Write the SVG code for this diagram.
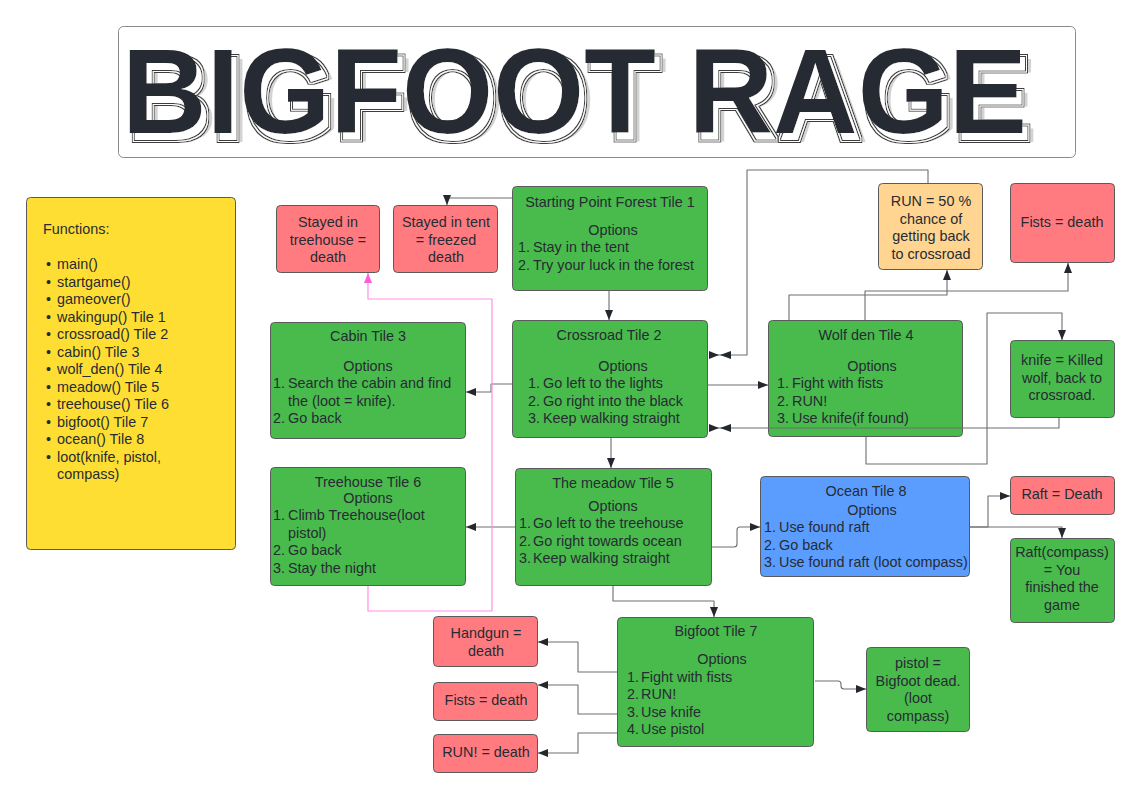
<svg xmlns="http://www.w3.org/2000/svg" width="1141" height="800" viewBox="0 0 1141 800">
  <defs>
    <style>
      .node { stroke: #5a5a5a; stroke-width: 1; }
      .green { fill: #48bb4c; }
      .red { fill: #ff7b80; }
      .orange { fill: #ffd591; }
      .blue { fill: #5a9dff; }
      .yellow { fill: #ffde33; }
      text { font-family: "Liberation Sans", Arial, sans-serif; font-size: 14.4px; fill: #272b33; }
      .c { text-anchor: middle; }
      .conn { fill: none; stroke: #6e6e6e; stroke-width: 1.1; stroke-linejoin: round; }
      .pink { fill: none; stroke: #ff8fe6; stroke-width: 1.2; stroke-linejoin: round; }
      .head { fill: #23272e; }
      .title { font-family: "Liberation Sans", Arial, sans-serif; font-weight: bold; font-size: 121px; }
    </style>
    <marker id="arrow" markerUnits="userSpaceOnUse" markerWidth="11" markerHeight="9" refX="10" refY="4" orient="auto">
      <path d="M0,0 L10,4 L0,8 z" fill="#23272e"/>
    </marker>
    <marker id="arrowPink" markerUnits="userSpaceOnUse" markerWidth="11" markerHeight="9" refX="10" refY="4" orient="auto">
      <path d="M0,0 L10,4 L0,8 z" fill="#ff5cd9"/>
    </marker>
    <!-- vertical block seams inside the heading letters -->
    <pattern id="blocks" width="20" height="20" patternUnits="userSpaceOnUse" x="122">
      <rect width="20" height="20" fill="#2c313a"/>
      <rect x="19" width="1" height="20" fill="#4a505a"/>
    </pattern>
    <!-- heading effect: grey drop shadow plus a double-line offset outline -->
    <filter id="retro" x="-3%" y="-20%" width="108%" height="150%">
      <feOffset in="SourceAlpha" dx="11" dy="9" result="far"/>
      <feFlood flood-color="#a8a8a8" flood-opacity="0.5"/>
      <feComposite in2="far" operator="in" result="grey"/>
      <feOffset in="SourceAlpha" dx="5" dy="7" result="near"/>
      <feMorphology in="near" operator="dilate" radius="2.6" result="d26"/>
      <feMorphology in="near" operator="dilate" radius="1.5" result="d15"/>
      <feMorphology in="near" operator="dilate" radius="0.7" result="d07"/>
      <feComposite in="d26" in2="d15" operator="out" result="ring1"/>
      <feComposite in="d07" in2="near" operator="out" result="ring2"/>
      <feMerge result="rings">
        <feMergeNode in="ring1"/>
        <feMergeNode in="ring2"/>
      </feMerge>
      <feFlood flood-color="#ffffff"/>
      <feComposite in2="d26" operator="in" result="paper"/>
      <feFlood flood-color="#3c3c3c"/>
      <feComposite in2="rings" operator="in" result="lines"/>
      <feMerge>
        <feMergeNode in="grey"/>
        <feMergeNode in="paper"/>
        <feMergeNode in="lines"/>
        <feMergeNode in="SourceGraphic"/>
      </feMerge>
    </filter>
  </defs>

  <!-- Title banner -->
  <g id="title">
    <rect x="118.5" y="26.5" width="957" height="131" rx="5" fill="#ffffff" stroke="#8a8a8a" stroke-width="1"/>
    <text class="title" x="122" y="133" textLength="905" lengthAdjust="spacingAndGlyphs" fill="url(#blocks)" filter="url(#retro)">BIGFOOT RAGE</text>
  </g>

  <!-- Function list -->
  <g id="functions">
    <rect class="node yellow" x="26.5" y="197.5" width="209" height="352" rx="4"/>
    <text x="43" y="234">Functions:</text>
    <g>
      <text x="46" y="269">•</text><text x="57" y="269">main()</text>
      <text x="46" y="286.5">•</text><text x="57" y="286.5">startgame()</text>
      <text x="46" y="304">•</text><text x="57" y="304">gameover()</text>
      <text x="46" y="321.5">•</text><text x="57" y="321.5">wakingup() Tile 1</text>
      <text x="46" y="339">•</text><text x="57" y="339">crossroad() Tile 2</text>
      <text x="46" y="356.5">•</text><text x="57" y="356.5">cabin() Tile 3</text>
      <text x="46" y="374">•</text><text x="57" y="374">wolf_den() Tile 4</text>
      <text x="46" y="391.5">•</text><text x="57" y="391.5">meadow() Tile 5</text>
      <text x="46" y="409">•</text><text x="57" y="409">treehouse() Tile 6</text>
      <text x="46" y="426.5">•</text><text x="57" y="426.5">bigfoot() Tile 7</text>
      <text x="46" y="444">•</text><text x="57" y="444">ocean() Tile 8</text>
      <text x="46" y="461.5">•</text><text x="57" y="461.5">loot(knife, pistol,</text>
      <text x="57" y="479">compass)</text>
    </g>
  </g>

  <!-- Tile 1 -->
  <g id="start">
    <rect class="node green" x="512.5" y="186.5" width="195" height="104" rx="4"/>
    <text class="c" x="610" y="206.5">Starting Point Forest Tile 1</text>
    <text class="c" x="613" y="235">Options</text>
    <text x="518" y="252">1.</text><text x="533" y="252">Stay in the tent</text>
    <text x="518" y="270">2.</text><text x="533" y="270">Try your luck in the forest</text>
  </g>

  <g id="treehouse-death">
    <rect class="node red" x="276.5" y="205.5" width="103" height="67" rx="4"/>
    <text class="c" x="328" y="227">Stayed in</text>
    <text class="c" x="328" y="244.5">treehouse  =</text>
    <text class="c" x="328" y="262">death</text>
  </g>

  <g id="tent-death">
    <rect class="node red" x="393.5" y="205.5" width="104" height="67" rx="4"/>
    <text class="c" x="446" y="227">Stayed in tent</text>
    <text class="c" x="446" y="244.5">= freezed</text>
    <text class="c" x="446" y="262">death</text>
  </g>

  <!-- Tile 2 -->
  <g id="crossroad">
    <rect class="node green" x="512.5" y="320.5" width="195" height="117" rx="4"/>
    <text class="c" x="609" y="340">Crossroad Tile 2</text>
    <text class="c" x="623" y="371">Options</text>
    <text x="528" y="388">1.</text><text x="543" y="388">Go left to the lights</text>
    <text x="528" y="406">2.</text><text x="543" y="406">Go right into the black</text>
    <text x="528" y="423">3.</text><text x="543" y="423">Keep walking straight</text>
  </g>

  <!-- Tile 3 -->
  <g id="cabin">
    <rect class="node green" x="270.5" y="322.5" width="195" height="116" rx="4"/>
    <text class="c" x="368" y="341">Cabin Tile 3</text>
    <text class="c" x="368" y="371">Options</text>
    <text x="273" y="388">1.</text><text x="288" y="388">Search the cabin and find</text>
    <text x="288" y="406">the (loot = knife).</text>
    <text x="273" y="423">2.</text><text x="288" y="423">Go back</text>
  </g>

  <!-- Tile 4 -->
  <g id="wolf-den">
    <rect class="node green" x="768.5" y="320.5" width="194" height="116" rx="4"/>
    <text class="c" x="866" y="340">Wolf den Tile 4</text>
    <text class="c" x="872" y="371">Options</text>
    <text x="777" y="388">1.</text><text x="792" y="388">Fight with fists</text>
    <text x="777" y="406">2.</text><text x="792" y="406">RUN!</text>
    <text x="777" y="423">3.</text><text x="792" y="423">Use knife(if found)</text>
  </g>

  <g id="run-chance">
    <rect class="node orange" x="878.5" y="183.5" width="104" height="86" rx="4"/>
    <text class="c" x="931" y="206">RUN = 50 %</text>
    <text class="c" x="931" y="223.5">chance of</text>
    <text class="c" x="931" y="241">getting back</text>
    <text class="c" x="931" y="258.5">to crossroad</text>
  </g>

  <g id="wolf-fists">
    <rect class="node red" x="1010.5" y="183.5" width="104" height="79" rx="4"/>
    <text class="c" x="1062" y="227">Fists = death</text>
  </g>

  <g id="wolf-knife">
    <rect class="node green" x="1010.5" y="340.5" width="104" height="77" rx="4"/>
    <text class="c" x="1062" y="365">knife = Killed</text>
    <text class="c" x="1062" y="383">wolf, back to</text>
    <text class="c" x="1062" y="400">crossroad.</text>
  </g>

  <!-- Tile 5 -->
  <g id="meadow">
    <rect class="node green" x="515.5" y="468.5" width="196" height="117" rx="4"/>
    <text class="c" x="613" y="488">The meadow Tile 5</text>
    <text class="c" x="613" y="511">Options</text>
    <text x="519" y="528">1.</text><text x="533" y="528">Go left to the treehouse</text>
    <text x="519" y="546">2.</text><text x="533" y="546">Go right towards ocean</text>
    <text x="519" y="563">3.</text><text x="533" y="563">Keep walking straight</text>
  </g>

  <!-- Tile 6 -->
  <g id="treehouse">
    <rect class="node green" x="270.5" y="467.5" width="195" height="118" rx="4"/>
    <text class="c" x="368" y="487">Treehouse Tile 6</text>
    <text class="c" x="368" y="503">Options</text>
    <text x="273" y="520">1.</text><text x="288" y="520">Climb Treehouse(loot</text>
    <text x="288" y="538">pistol)</text>
    <text x="273" y="555">2.</text><text x="288" y="555">Go back</text>
    <text x="273" y="573">3.</text><text x="288" y="573">Stay the night</text>
  </g>

  <!-- Tile 8 -->
  <g id="ocean">
    <rect class="node blue" x="760.5" y="476.5" width="209" height="100" rx="4"/>
    <text class="c" x="866" y="496">Ocean Tile 8</text>
    <text class="c" x="872" y="515">Options</text>
    <text x="764" y="532">1.</text><text x="779" y="532">Use found raft</text>
    <text x="764" y="550">2.</text><text x="779" y="550">Go back</text>
    <text x="764" y="567">3.</text><text x="779" y="567">Use found raft (loot compass)</text>
  </g>

  <g id="raft-death">
    <rect class="node red" x="1010.5" y="476.5" width="104" height="38" rx="4"/>
    <text class="c" x="1062" y="499">Raft = Death</text>
  </g>

  <g id="raft-compass">
    <rect class="node green" x="1010.5" y="538.5" width="104" height="84" rx="4"/>
    <text class="c" x="1062" y="557">Raft(compass)</text>
    <text class="c" x="1062" y="575">= You</text>
    <text class="c" x="1062" y="592">finished the</text>
    <text class="c" x="1062" y="610">game</text>
  </g>

  <!-- Tile 7 -->
  <g id="bigfoot">
    <rect class="node green" x="617.5" y="617.5" width="196" height="129" rx="4"/>
    <text class="c" x="716" y="636">Bigfoot Tile 7</text>
    <text class="c" x="722" y="664">Options</text>
    <text x="627" y="682">1.</text><text x="641" y="682">Fight with fists</text>
    <text x="627" y="699">2.</text><text x="641" y="699">RUN!</text>
    <text x="627" y="717">3.</text><text x="641" y="717">Use knife</text>
    <text x="627" y="734">4.</text><text x="641" y="734">Use pistol</text>
  </g>

  <g id="handgun-death">
    <rect class="node red" x="433.5" y="616.5" width="104" height="50" rx="4"/>
    <text class="c" x="486" y="638">Handgun =</text>
    <text class="c" x="486" y="656">death</text>
  </g>

  <g id="fists-death">
    <rect class="node red" x="433.5" y="682.5" width="104" height="38" rx="4"/>
    <text class="c" x="486" y="704.5">Fists = death</text>
  </g>

  <g id="run-death">
    <rect class="node red" x="433.5" y="734.5" width="104" height="38" rx="4"/>
    <text class="c" x="486" y="757">RUN! = death</text>
  </g>

  <g id="pistol-win">
    <rect class="node green" x="866.5" y="647.5" width="103" height="84" rx="4"/>
    <text class="c" x="918" y="668">pistol =</text>
    <text class="c" x="918" y="686">Bigfoot dead.</text>
    <text class="c" x="918" y="703">(loot</text>
    <text class="c" x="918" y="721">compass)</text>
  </g>

  <!-- Connectors -->
  <g id="connectors">
    <path class="conn" d="M512,198 H447 V205" marker-end="url(#arrow)"/>
    <path class="conn" d="M609,291 V320" marker-end="url(#arrow)"/>
    <path class="conn" d="M512,384 H491 V392 H466" marker-end="url(#arrow)"/>
    <path class="conn" d="M708,385 H768" marker-end="url(#arrow)"/>
    <path class="conn" d="M789,320 V295 H947 V270" marker-end="url(#arrow)"/>
    <path class="conn" d="M865,320 V291 H1068 V263" marker-end="url(#arrow)"/>
    <path class="conn" d="M928,183 V170 H747 V355 H709"/>
    <path class="conn" d="M866,437 V464 H987 V313 H1062 V340" marker-end="url(#arrow)"/>
    <path class="conn" d="M1059,418 V428 H709"/>
    <polygon class="head" points="709,351 709,359 719,355"/>
    <polygon class="head" points="720,355 731,351 731,359"/>
    <polygon class="head" points="709,424 709,432 719,428"/>
    <polygon class="head" points="720,428 731,424 731,432"/>
    <path class="conn" d="M611,438 V468" marker-end="url(#arrow)"/>
    <path class="conn" d="M515,527 H466" marker-end="url(#arrow)"/>
    <path class="conn" d="M712,547 H734 Q737,547 737,544 V530 Q737,527 740,527 H760" marker-end="url(#arrow)"/>
    <path class="conn" d="M613,586 V601 H714 V617" marker-end="url(#arrow)"/>
    <path class="pink" d="M368,586 V611 H492 V299 H368 V273" marker-end="url(#arrowPink)"/>
    <path class="conn" d="M970,527 H988 V496 H1010" marker-end="url(#arrow)"/>
    <path class="conn" d="M970,527 H1062 V538" marker-end="url(#arrow)"/>
    <path class="conn" d="M617,672 H578 V642 H538" marker-end="url(#arrow)"/>
    <path class="conn" d="M617,714 H578 V685 H538" marker-end="url(#arrow)"/>
    <path class="conn" d="M617,733 H578 V753 H538" marker-end="url(#arrow)"/>
    <path class="conn" d="M815,681 H838 Q841,681 841,684 V686 Q841,689 844,689 H866" marker-end="url(#arrow)"/>
  </g>
</svg>
